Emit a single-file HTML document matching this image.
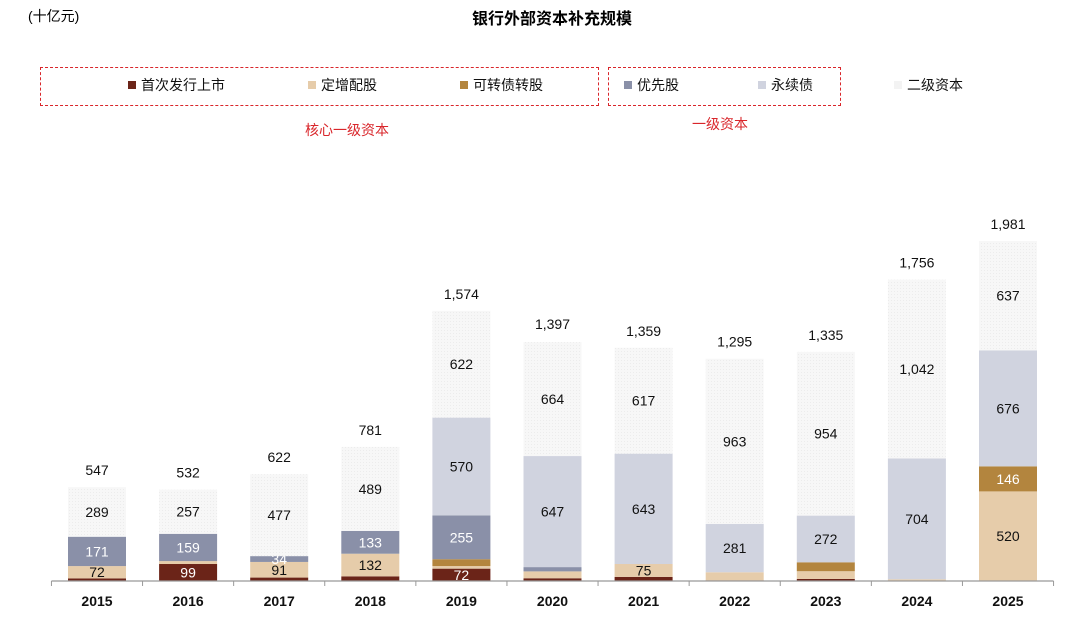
<!DOCTYPE html>
<html><head><meta charset="utf-8"><style>
body{margin:0;background:#fff;font-family:"Liberation Sans","Noto Sans CJK SC",sans-serif;}
#wrap{position:relative;width:1080px;height:623px;overflow:hidden;}
.abs{position:absolute;white-space:nowrap;}
.box{position:absolute;border:1.5px dashed #d9262b;}
.lg{position:absolute;font-size:14px;color:#111;top:75px;}
.sw{display:inline-block;width:8px;height:8px;margin-right:5px;vertical-align:1px;}
</style></head><body>
<div id="wrap">
<div class="abs" style="left:28px;top:6px;font-size:14px;">(十亿元)</div>
<div class="abs" style="left:472px;top:5px;font-size:16px;font-weight:bold;">银行外部资本补充规模</div>
<div class="box" style="left:40px;top:67px;width:557px;height:37px;"></div>
<div class="box" style="left:608px;top:67px;width:231px;height:37px;"></div>
<div class="lg" style="left:128px"><span class="sw" style="background:#6b2418"></span>首次发行上市</div>
<div class="lg" style="left:308px"><span class="sw" style="background:#e6ccaa"></span>定增配股</div>
<div class="lg" style="left:460px"><span class="sw" style="background:#b3853e"></span>可转债转股</div>
<div class="lg" style="left:624px"><span class="sw" style="background:#8a90a8"></span>优先股</div>
<div class="lg" style="left:758px"><span class="sw" style="background:#d0d3df"></span>永续债</div>
<div class="lg" style="left:894px"><span class="sw" style="background:#f3f3f3"></span>二级资本</div>
<div class="abs" style="left:305px;top:120px;font-size:14px;color:#d9262b;">核心一级资本</div>
<div class="abs" style="left:692px;top:114px;font-size:14px;color:#d9262b;">一级资本</div>
<svg id="svg" width="1080" height="623" style="position:absolute;left:0;top:0">
<defs><pattern id="dots" width="3" height="3" patternUnits="userSpaceOnUse"><rect width="3" height="3" fill="#f7f7f7"/><rect width="1" height="1" fill="#ececec"/></pattern></defs>
</svg>
</div>
<script>
const years=["2015","2016","2017","2018","2019","2020","2021","2022","2023","2024","2025"];
const ipo=[15,99,20,27,72,16,24,4,12,3,2];
const placement=[72,17,91,132,15,40,75,47,45,7,520];
const convertible=[0,0,0,0,40,0,0,0,52,0,146];
const preferred=[171,159,34,133,255,25,0,0,0,0,0];
const perpetual=[0,0,0,0,570,647,643,281,272,704,676];
const tier2=[289,257,477,489,622,664,617,963,954,1042,637];
const totals=[547,532,622,781,1574,1397,1359,1295,1335,1756,1981];
const series=[
 {name:"ipo",v:ipo,c:"#6b2418",t:"#fff"},
 {name:"placement",v:placement,c:"#e6ccaa",t:"#111"},
 {name:"convertible",v:convertible,c:"#b3853e",t:"#fff"},
 {name:"preferred",v:preferred,c:"#8a90a8",t:"#fff"},
 {name:"perpetual",v:perpetual,c:"#d0d3df",t:"#111"},
 {name:"tier2",v:tier2,c:"url(#dots)",t:"#111"}];
const base=581,k=340/1981,x0=97,step=91.1,bw=58;
const y=v=>base-v*k, xc=i=>x0+i*step;
const svg=document.getElementById('svg'),NS="http://www.w3.org/2000/svg";
function mk(tag,a){const e=document.createElementNS(NS,tag);for(const n in a)e.setAttribute(n,a[n]);svg.appendChild(e);return e;}
years.forEach((yr,i)=>{
  let cum=0;
  series.forEach(s=>{
    const v=s.v[i]; if(!v) return;
    const r=mk('rect',{x:xc(i)-bw/2,y:y(cum+v),width:bw,height:v*k,fill:s.c});
    
    
    if(v>=70||(s.name==="preferred"&&v>=32)){
      const t=mk('text',{x:xc(i),y:y(cum+v/2)+5,'text-anchor':'middle','font-size':14,fill:s.t});
      t.textContent=v.toLocaleString('en-US');
      
      
    }
    cum+=v;
  });
  const tt=mk('text',{x:xc(i),y:y(totals[i])-12,'text-anchor':'middle','font-size':14,fill:'#111'});
  tt.textContent=totals[i].toLocaleString('en-US');
  
  
  const yl=mk('text',{x:xc(i),y:606,'text-anchor':'middle','font-size':14,'font-weight':'bold',fill:'#111'});
  yl.textContent=yr;
  
  
});
const ax=mk('line',{x1:x0-step/2,x2:xc(years.length-1)+step/2,y1:base,y2:base,stroke:'#999','stroke-width':1.2});


for(let i=0;i<=years.length;i++){
  const tk=mk('line',{x1:x0-step/2+i*step,x2:x0-step/2+i*step,y1:base,y2:base+5,stroke:'#999'});
  
  
}
</script>
</body></html>
